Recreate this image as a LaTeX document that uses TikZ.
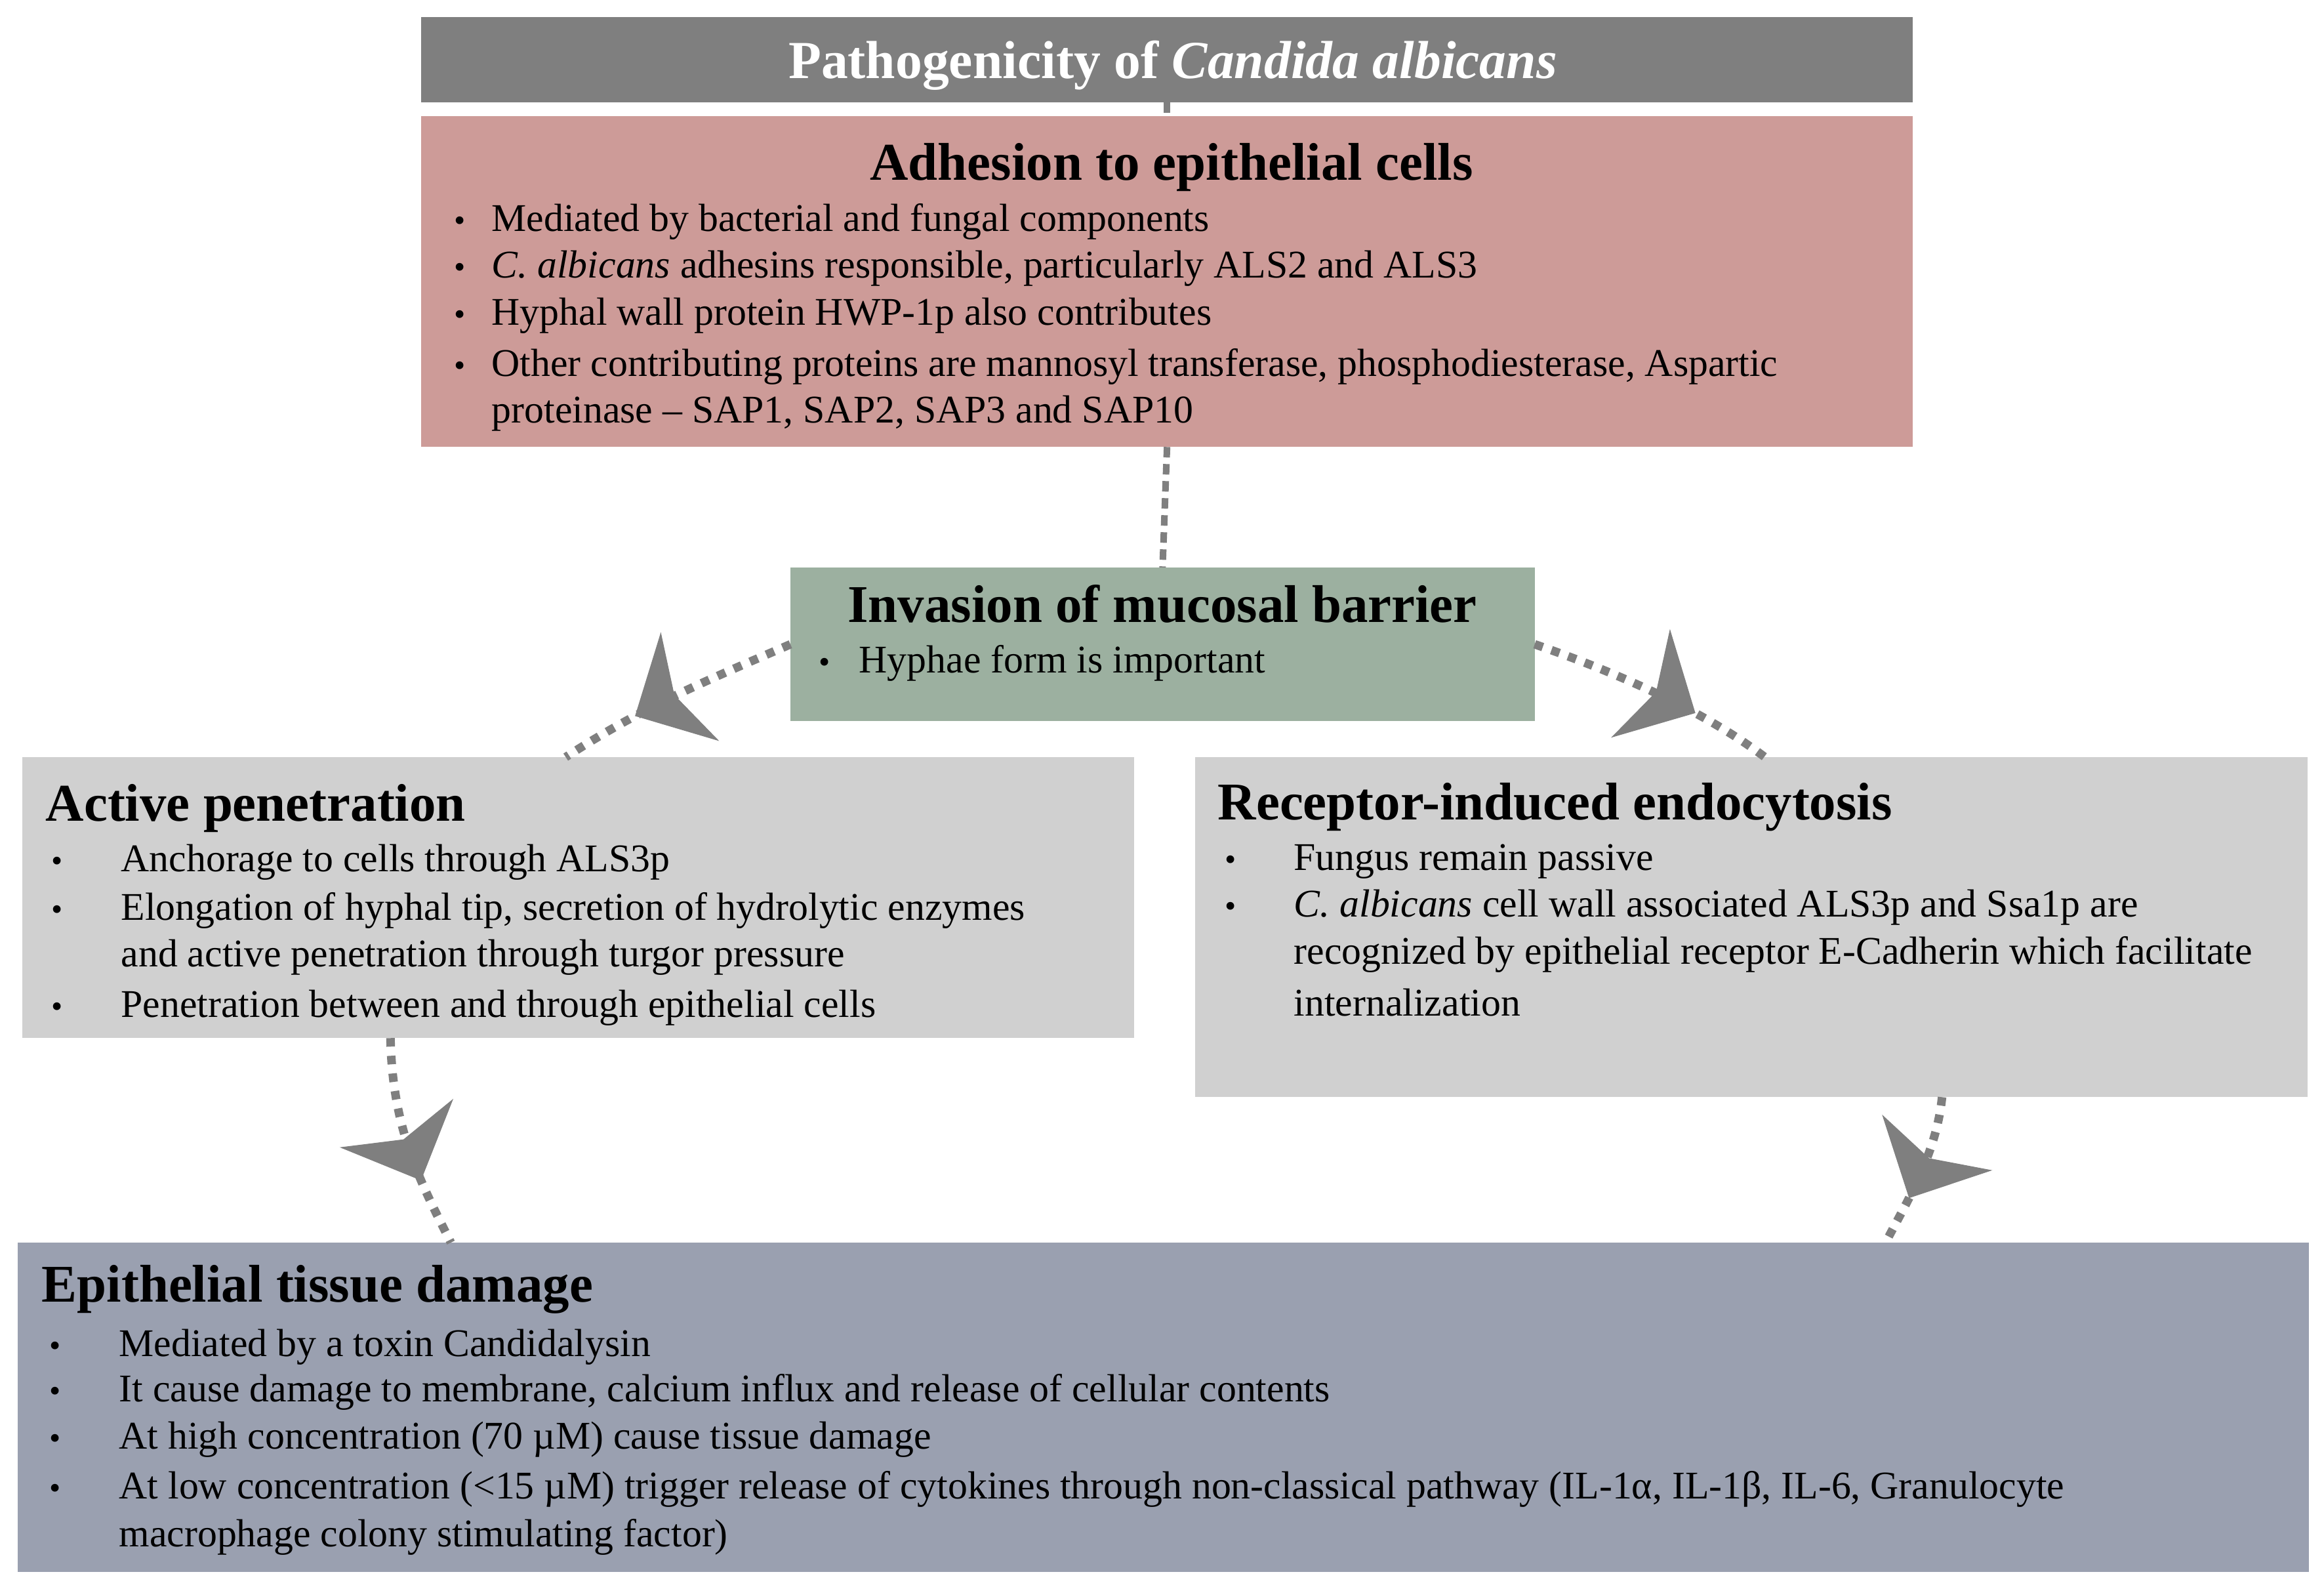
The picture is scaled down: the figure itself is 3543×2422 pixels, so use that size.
\documentclass[tikz,border=0pt]{standalone}
\usepackage{fontspec}
\setmainfont{Liberation Serif}
\usetikzlibrary{arrows.meta,decorations.markings,calc}
\definecolor{titlegray}{HTML}{7F7F7F}
\definecolor{rose}{HTML}{CD9B98}
\definecolor{sage}{HTML}{9CB0A0}
\definecolor{lightgray}{HTML}{D0D0D0}
\definecolor{bluegray}{HTML}{9AA0B0}
\definecolor{linkgray}{HTML}{7F7F7F}
\begin{document}
\begin{tikzpicture}[x=0.01cm,y=-0.01cm,
  panel/.style={draw=none,inner sep=0pt,outer sep=0pt,anchor=north west},
  txt/.style={anchor=base west,inner sep=0pt,font=\fontsize{17}{20}\selectfont},
  bul/.style={anchor=base west,inner sep=0pt,font=\fontsize{14}{20}\selectfont},
  hd/.style={anchor=base west,inner sep=0pt,font=\fontsize{23}{27}\selectfont\bfseries},
  dashline/.style={draw=linkgray,line width=0.1cm,dash pattern=on 0.16cm off 0.10cm},
  dotline/.style={draw=linkgray,line width=0.13cm,dash pattern=on 0.13cm off 0.14cm},
  arrowmid/.style={postaction={decorate},decoration={markings,
     mark=at position 0.68 with {\arrow[line width=0.3pt,linkgray]{Stealth[length=0.95cm,width=1.88cm,inset=0.27cm]}}}}
]
\useasboundingbox[fill=white] (0,0) rectangle (3543,2422);

% boxes
\node[panel,fill=titlegray,minimum width=22.73cm,minimum height=1.30cm] (ttl) at (642,26) {};
\node[panel,fill=rose,minimum width=22.73cm,minimum height=5.04cm] (adh) at (642,177) {};
\node[panel,fill=sage,minimum width=11.34cm,minimum height=2.34cm] (inv) at (1205,865) {};
\node[panel,fill=lightgray,minimum width=16.94cm,minimum height=4.28cm] (act) at (34,1154) {};
\node[panel,fill=lightgray,minimum width=16.95cm,minimum height=5.18cm] (rec) at (1822,1154) {};
\node[panel,fill=bluegray,minimum width=34.91cm,minimum height=5.02cm] (epi) at (27,1894) {};

% connectors
\draw[dashline] (ttl.south) -- (adh.north);
\draw[dashline] (adh.south) -- (inv.north);
\draw[dotline,arrowmid] (inv.west) .. controls (1085,1034) and (982,1076) .. ([xshift=8.28cm]act.north west);
\draw[dotline,arrowmid] (inv.east) .. controls (2450,1020) and (2590,1078) .. ([xshift=8.68cm]rec.north west);
\draw[dotline,arrowmid] ([xshift=5.61cm]act.south west) .. controls (598,1720) and (640,1800) .. ([xshift=6.60cm]epi.north west);
\draw[dotline,arrowmid] ([xshift=11.38cm]rec.south west) .. controls (2952,1760) and (2905,1835) .. ([xshift=28.46cm]epi.north west);

% title
\node[anchor=base,inner sep=0pt,text=white,font=\fontsize{23.2}{27}\selectfont\bfseries] (ttltext) at (1788,120) {Pathogenicity of \textit{Candida albicans}};

% adhesion
\node[hd,anchor=base] (adhh) at (1786,275) {Adhesion to epithelial cells};
\node[bul] (ab1) at (692,353) {\textbullet};
\node[txt] (at1) at (749,353) {Mediated by bacterial and fungal components};
\node[bul] (ab2) at (692,424) {\textbullet};
\node[txt] (at2) at (749,424) {\textit{C. albicans} adhesins responsible, particularly ALS2 and ALS3};
\node[bul] (ab3) at (692,496) {\textbullet};
\node[txt] (at3) at (749,496) {Hyphal wall protein HWP-1p also contributes};
\node[bul] (ab4) at (692,574) {\textbullet};
\node[txt] (at4) at (749,574) {Other contributing proteins are mannosyl transferase, phosphodiesterase, Aspartic};
\node[txt] (at5) at (749,645) {proteinase -- SAP1, SAP2, SAP3 and SAP10};

% invasion
\node[hd,anchor=base] (invh) at (1772,948) {Invasion of mucosal barrier};
\node[bul] (ib1) at (1248,1025) {\textbullet};
\node[txt] (it1) at (1309,1025) {Hyphae form is important};

% active penetration
\node[hd] (acth) at (69,1251) {Active penetration};
\node[bul] (pb1) at (78,1328) {\textbullet};
\node[txt] (pt1) at (184,1328) {Anchorage to cells through ALS3p};
\node[bul] (pb2) at (78,1402) {\textbullet};
\node[txt] (pt2) at (184,1402) {Elongation of hyphal tip, secretion of hydrolytic enzymes};
\node[txt] (pt3) at (184,1473) {and active penetration through turgor pressure};
\node[bul] (pb3) at (78,1550) {\textbullet};
\node[txt] (pt4) at (184,1550) {Penetration between and through epithelial cells};

% receptor
\node[hd] (rech) at (1856,1249) {Receptor-induced endocytosis};
\node[bul] (rb1) at (1867,1326) {\textbullet};
\node[txt] (rt1) at (1972,1326) {Fungus remain passive};
\node[bul] (rb2) at (1867,1397) {\textbullet};
\node[txt] (rt2) at (1972,1397) {\textit{C. albicans} cell wall associated ALS3p and Ssa1p are};
\node[txt] (rt3) at (1972,1469) {recognized by epithelial receptor E-Cadherin which facilitate};
\node[txt] (rt4) at (1972,1548) {internalization};

% epithelial
\node[hd] (epih) at (63,1984) {Epithelial tissue damage};
\node[bul] (eb1) at (75,2067) {\textbullet};
\node[txt] (et1) at (181,2067) {Mediated by a toxin Candidalysin};
\node[bul] (eb2) at (75,2136) {\textbullet};
\node[txt] (et2) at (181,2136) {It cause damage to membrane, calcium influx and release of cellular contents};
\node[bul] (eb3) at (75,2208) {\textbullet};
\node[txt] (et3) at (181,2208) {At high concentration (70 µM) cause tissue damage};
\node[bul] (eb4) at (75,2284) {\textbullet};
\node[txt] (et4) at (181,2284) {At low concentration (<15 µM) trigger release of cytokines through non-classical pathway (IL-1α, IL-1β, IL-6, Granulocyte};
\node[txt] (et5) at (181,2357) {macrophage colony stimulating factor)};
\end{tikzpicture}
\end{document}
